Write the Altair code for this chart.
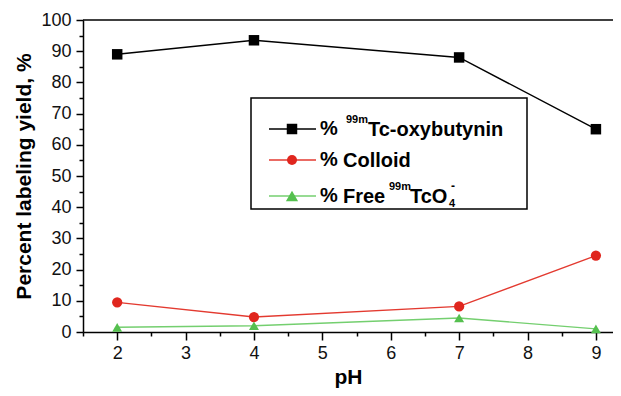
import altair as alt
import pandas as pd

ph = [2, 4, 7, 9]
oxy = [89.0, 93.5, 88.0, 65.0]
colloid = [9.5, 4.8, 8.2, 24.5]
free = [1.5, 2.0, 4.5, 1.0]
series_names = ["Tc-oxybutynin", "Colloid", "Free TcO4"]
colors = ["#000000", "#e0261e", "#55c04f"]
line_colors = ["#000000", "#e33a30", "#74cf6f"]
shapes = ["square", "circle", "triangle-up"]
marker_sizes = [110, 100, 150]
x_major = [2, 3, 4, 5, 6, 7, 8, 9]
x_minor = [1.5, 2.5, 3.5, 4.5, 5.5, 6.5, 7.5, 8.5]
y_major = list(range(0, 101, 10))
y_minor = list(range(5, 100, 10))

rows = []
for name, vals in zip(series_names, [oxy, colloid, free]):
    for p, v in zip(ph, vals):
        rows.append({"pH": p, "value": v, "series": name})
df = pd.DataFrame(rows)

W, H = 530, 312
FONT = "Liberation Sans"

xs = alt.Scale(domain=[1.5, 9.25], nice=False, zero=False)
ys = alt.Scale(domain=[0, 100], nice=False)
col = alt.Scale(domain=series_names, range=colors)
lcol = alt.Scale(domain=series_names, range=line_colors)
shp = alt.Scale(domain=series_names, range=shapes)
szs = alt.Scale(domain=series_names, range=marker_sizes)

common = dict(grid=False, domainColor="black", domainWidth=1.5, tickColor="black", tickWidth=1.5,
              labelOverlap=False, labelFont=FONT, labelColor="#111", titleFont=FONT,
              titleFontWeight="bold", titleColor="black")

xaxis = alt.Axis(title="pH", orient="bottom", values=x_major, tickSize=8, labelFontSize=18,
                 labelPadding=4, titleFontSize=21, titlePadding=4, format="d", **common)
yaxis = alt.Axis(title="Percent labeling yield, %", orient="left", values=y_major, tickSize=7,
                 labelFontSize=18, labelPadding=5, titleFontSize=21, titlePadding=6, format="d",
                 **common)
xminor = alt.Axis(title=None, orient="bottom", values=x_minor, tickSize=4, labels=False,
                  domain=False, grid=False, tickColor="black", tickWidth=1.5)
yminor = alt.Axis(title=None, orient="left", values=y_minor, tickSize=4, labels=False,
                  domain=False, grid=False, tickColor="black", tickWidth=1.5)

base = alt.Chart(df)
lines = base.mark_line(strokeWidth=1.4).encode(
    x=alt.X("pH:Q", scale=xs, axis=xaxis),
    y=alt.Y("value:Q", scale=ys, axis=yaxis),
    color=alt.Color("series:N", scale=lcol, legend=None),
    detail="series:N",
)
points = base.mark_point(filled=True, opacity=1).encode(
    x=alt.X("pH:Q", scale=xs, axis=xminor),
    y=alt.Y("value:Q", scale=ys, axis=yminor),
    color=alt.Color("series:N", scale=col, legend=None),
    shape=alt.Shape("series:N", scale=shp, legend=None),
    size=alt.Size("series:N", scale=szs, legend=None),
)

one = pd.DataFrame({"a": [0]})
top = alt.Chart(one).mark_rule(color="black", strokeWidth=1.5).encode(
    x=alt.value(0), x2=alt.value(W), y=alt.value(0))

# legend (manual, for super/subscripts)
LX0, LX1, LY0, LY1 = 168, 444, 78, 189
box = alt.Chart(one).mark_rect(fill="white", stroke="black", strokeWidth=1.5).encode(
    x=alt.value(LX0), x2=alt.value(LX1), y=alt.value(LY0), y2=alt.value(LY1))

def txt(s, x, y, size=20, weight="bold"):
    return alt.Chart(one).mark_text(text=s, font=FONT, fontSize=size, fontWeight=weight,
                                    align="left", baseline="middle", color="black").encode(
        x=alt.value(x), y=alt.value(y))

leg = [box]
row_y = [109, 140, 176]
for i in range(3):
    yy = row_y[i]
    leg.append(alt.Chart(one).mark_rule(color=line_colors[i], strokeWidth=1.4).encode(
        x=alt.value(186), x2=alt.value(233), y=alt.value(yy)))
    leg.append(alt.Chart(one).mark_point(filled=True, opacity=1, size=marker_sizes[i],
                                         shape=shapes[i], color=colors[i]).encode(
        x=alt.value(209), y=alt.value(yy)))

leg += [
    txt("%", 237, 109), txt("99m", 263, 100, 11), txt("Tc-oxybutynin", 285, 110),
    txt("%", 237, 140), txt("Colloid", 260, 141),
    txt("%", 237, 176), txt("Free", 260, 177), txt("99m", 306, 167, 11),
    txt("TcO", 327, 177), txt("4", 366, 184, 11), txt("-", 368, 166, 12),
]

chart = alt.layer(top, lines, points, *leg).resolve_axis(
    x="independent", y="independent").resolve_scale(color="independent").properties(
    width=W, height=H,
    autosize=alt.AutoSizeParams(type="none"),
    padding={"left": 75, "top": 12, "right": 0, "bottom": 56},
).configure_view(stroke=None)

chart.save("out.html", embed_options={"renderer": "svg", "actions": False})
